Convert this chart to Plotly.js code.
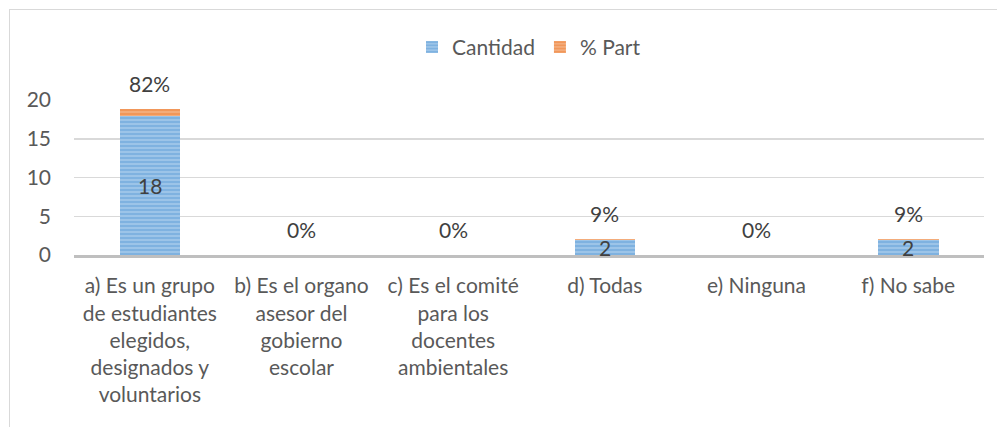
<!DOCTYPE html>
<html>
<head>
<meta charset="utf-8">
<script src="https://cdn.plot.ly/plotly-3.0.1.min.js"></script>
<style>
  html, body { margin: 0; padding: 0; background: #fff; }
  #frame { position: absolute; left: 9px; top: 9px; width: 988px; height: 418px;
           border-top: 1.5px solid #D9D9D9; border-left: 1.5px solid #D9D9D9; box-sizing: border-box; }
  #chart { width: 986px; height: 416px; }
</style>
</head>
<body>
<div id="frame"><div id="chart"></div></div>
<script>
const categories = [
  "a) Es un grupo<br>de estudiantes<br>elegidos,<br>designados y<br>voluntarios",
  "b) Es el organo<br>asesor del<br>gobierno<br>escolar",
  "c) Es el comité<br>para los<br>docentes<br>ambientales",
  "d) Todas",
  "e) Ninguna",
  "f) No sabe"
];
const cantidad = [18, 0, 0, 2, 0, 2];
const partPct = [0.82, 0, 0, 0.09, 0, 0.09];
const partLabels = ["82%", "0%", "0%", "9%", "0%", "9%"];

const FONT = "Lato, 'Open Sans', sans-serif";
const FS = 21;

const traces = [
  {
    type: 'bar', name: 'Cantidad', x: categories, y: cantidad,
    marker: { color: '#9DC3E6', line: { width: 0 },
      pattern: { shape: '-', fgcolor: '#5B9BD5', bgcolor: '#A3C8EA', size: 4, solidity: 0.6, fillmode: 'overlay' } },
    hoverinfo: 'skip'
  },
  {
    type: 'bar', name: '% Part', x: categories, y: partPct,
    marker: { color: '#F4B183', line: { width: 0 },
      pattern: { shape: '-', fgcolor: '#ED7D31', bgcolor: '#F4B183', size: 4, solidity: 0.6, fillmode: 'overlay' } },
    hoverinfo: 'skip'
  }
];

const annotations = [];
categories.forEach((c, i) => {
  if (cantidad[i] > 0) {
    annotations.push({ x: c, y: cantidad[i] / 2, xref: 'x', yref: 'y', text: String(cantidad[i]),
      showarrow: false, font: { family: FONT, size: FS, color: '#404040' } });
  }
  annotations.push({ x: c, y: cantidad[i] + partPct[i], xref: 'x', yref: 'y', text: partLabels[i],
    showarrow: false, yanchor: 'bottom', yshift: 11, font: { family: FONT, size: FS, color: '#404040' } });
});

const layout = {
  width: 986, height: 416,
  margin: { l: 64, r: 12, t: 90, b: 171 },
  paper_bgcolor: '#fff', plot_bgcolor: '#fff',
  barmode: 'stack', bargap: 0.6,
  font: { family: FONT, size: FS, color: '#595959' },
  showlegend: true,
  legend: { orientation: 'h', x: 0.5, xanchor: 'center', y: 1.34, yanchor: 'middle', yref: 'paper',
    font: { family: FONT, size: FS, color: '#595959' }, traceorder: 'normal' },
  xaxis: { type: 'category', showgrid: false, showline: true, linecolor: '#BFBFBF', linewidth: 3,
    ticks: '', ticklabelstandoff: 10, tickfont: { family: FONT, size: FS, color: '#595959' }, fixedrange: true },
  yaxis: { range: [0, 20], dtick: 5, showgrid: true, gridcolor: '#D9D9D9', gridwidth: 1.5,
    zeroline: false, showline: false, ticks: '', ticklabelstandoff: 22,
    tickfont: { family: FONT, size: FS, color: '#595959' }, fixedrange: true },
  annotations: annotations
};

Plotly.newPlot('chart', traces, layout, { staticPlot: true, displayModeBar: false });
</script>
</body>
</html>
